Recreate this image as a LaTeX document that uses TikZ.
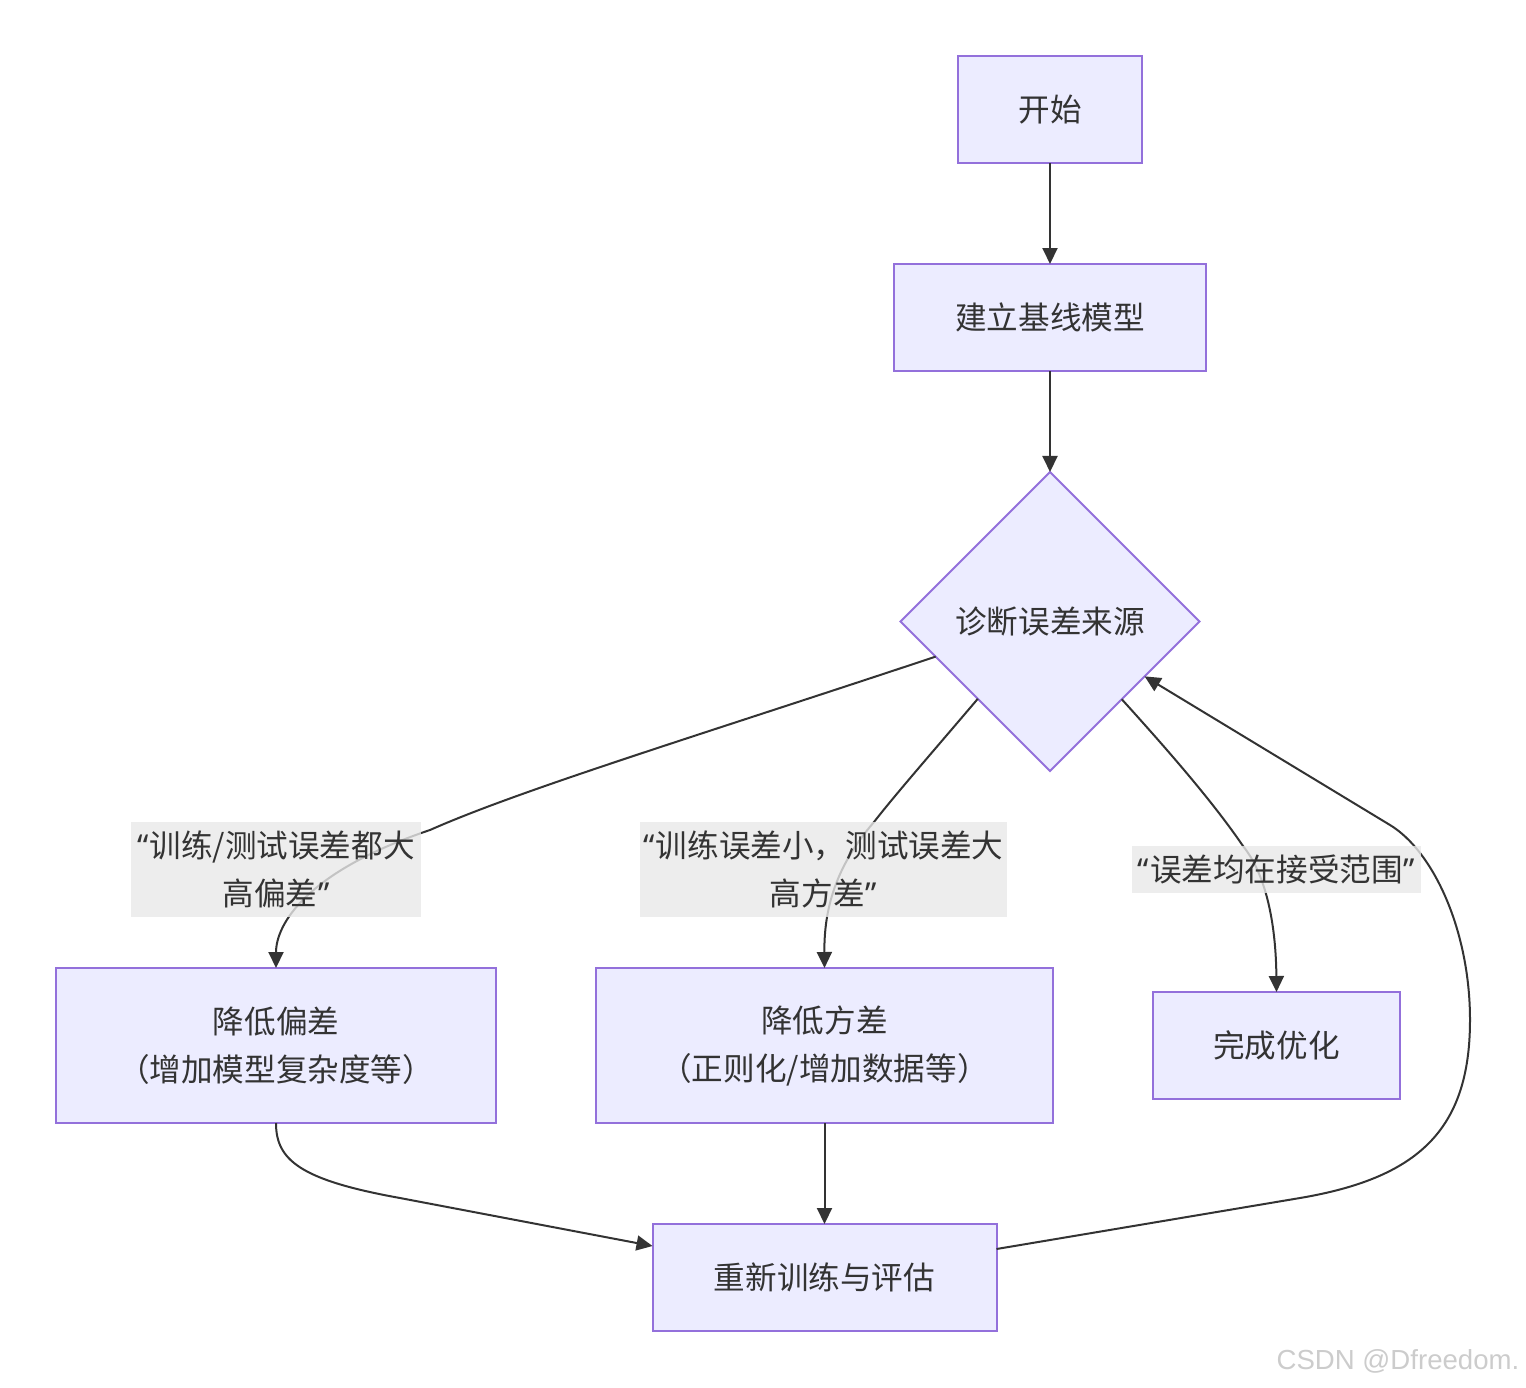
\documentclass[tikz,border=0pt]{standalone}
\usepackage{fontspec}
\setmainfont{Noto Sans CJK SC}
\newfontfamily\latinf{Noto Sans}
\newfontfamily\wmfont{Liberation Sans}
\usetikzlibrary{shapes.geometric,arrows.meta,calc}
\definecolor{nodefill}{HTML}{ECECFF}
\definecolor{nodeborder}{HTML}{9370DB}
\definecolor{edgecol}{HTML}{333333}
\definecolor{txtcol}{HTML}{333333}
\definecolor{lblbg}{HTML}{E8E8E8}
\definecolor{wmcol}{HTML}{CCCCCC}
\newcommand{\myLQ}{{\latinf “\hspace{0.5pt}}}
\newcommand{\myRQ}{{\latinf \hspace{0.5pt}”}}
\begin{document}
\begin{tikzpicture}[x=0.5pt,y=-0.5pt,
  txtfont/.style={font=\fontsize{15.8}{24}\selectfont},
  box/.style={draw=nodeborder, fill=nodefill, line width=1pt, inner sep=0pt, outer sep=0pt,
    text=txtcol, txtfont, align=center},
  dia/.style={box, diamond, aspect=1, minimum width=149.5pt, minimum height=149.5pt},
  lbl/.style={fill=lblbg, fill opacity=0.8, text opacity=1, text=txtcol, inner sep=0pt,
    outer sep=0pt, txtfont, align=center},
  edge/.style={draw=edgecol, line width=1pt, -{Triangle[length=8pt,width=7.5pt]}},
]
\useasboundingbox (0,0) rectangle (1526,1387);

\node[box, minimum width=92pt, minimum height=53.5pt] (start) at (1050,109.5) {开始};
\node[box, minimum width=156pt, minimum height=53.5pt] (base) at (1050,317.5) {建立基线模型};
\node[dia] (diag) at (1050,621.5) {诊断误差来源};
\node[box, minimum width=220pt, minimum height=77.5pt] (bias) at (276,1045.5) {降低偏差\\（增加模型复杂度等）};
\node[box, minimum width=228.5pt, minimum height=77.5pt] (var) at (824.5,1045.5) {降低方差\\（正则化/增加数据等）};
\node[box, minimum width=123.5pt, minimum height=53.5pt] (done) at (1276.5,1045.5) {完成优化};
\node[box, minimum width=172pt, minimum height=53.5pt] (retrain) at (824.5,1277.5) {重新训练与评估};

\coordinate (s1) at ($(diag.west)!0.235!(diag.south)$);
\coordinate (s2) at ($(diag.west)!0.517!(diag.south)$);
\coordinate (s3) at ($(diag.east)!0.52!(diag.south)$);
\coordinate (rin) at ($(diag.east)!0.367!(diag.south)$);
\coordinate (bout) at ($(retrain.west)+(0,-31.5)$);
\coordinate (rout) at ($(retrain.east)+(0,-28.5)$);

\draw[edge] (start) -- (base);
\draw[edge] (base) -- (diag);
\draw[edge] (s1) .. controls (700,735) and (520,790) .. (430,830) .. controls (305,872) and (276,925) .. (bias.north);
\draw[edge] (s2) .. controls (930,755) and (895,795) .. (874,822) .. controls (835,867) and (824,910) .. (var.north);
\draw[edge] (s3) .. controls (1175,758) and (1215,805) .. (1243,846) .. controls (1268,877) and (1276,930) .. (done.north);
\draw[edge] (bias.south) .. controls (276,1160) and (300,1180) .. (400,1198) -- (bout);
\draw[edge] (var) -- (retrain);
\draw[edge] (rout) -- (1300,1198) .. controls (1418,1178) and (1470,1130) .. (1470,1020)
  .. controls (1470,930) and (1433,851) .. (1390,825) -- (rin);

\node[lbl, minimum width=145pt, minimum height=47.5pt] (l1) at (276,869.5) {\myLQ 训练/测试误差都大\\高偏差\myRQ};
\node[lbl, minimum width=183.5pt, minimum height=47.5pt] (l2) at (823.5,869.5) {\myLQ 训练误差小，测试误差大\\高方差\myRQ};
\node[lbl, minimum width=144.5pt, minimum height=23.5pt] (l3) at (1276.5,869.5) {\myLQ 误差均在接受范围\myRQ};

\node[text=wmcol, font=\wmfont\fontsize{13.8}{16}\selectfont, inner sep=0pt] (wm) at (1398,1361) {CSDN @Dfreedom.};
\end{tikzpicture}
\end{document}
